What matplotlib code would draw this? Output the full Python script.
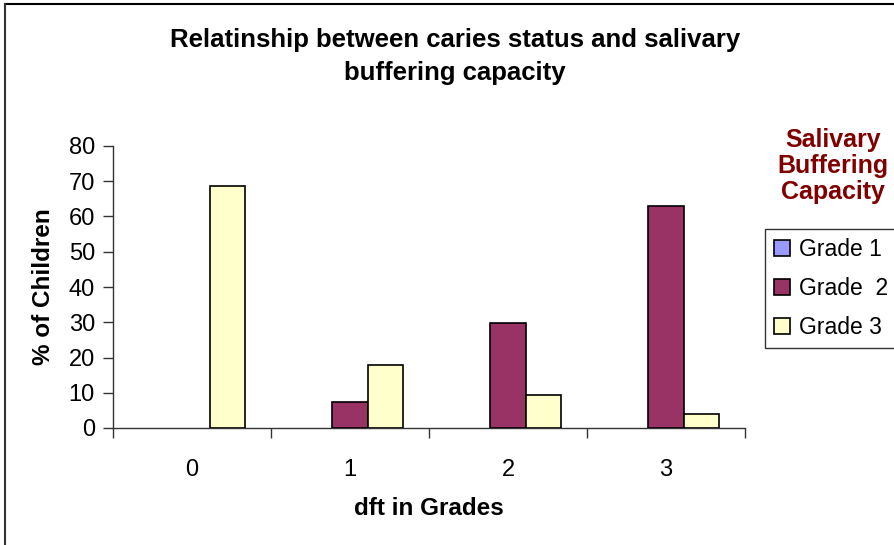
import numpy as np
import matplotlib
matplotlib.use("Agg")
from matplotlib import pyplot as plt
from matplotlib.lines import Line2D

plt.rcParams["font.family"] = ["Liberation Sans", "DejaVu Sans"]

# Data
categories = ["0", "1", "2", "3"]
series_names = ["Grade 1", "Grade  2", "Grade 3"]
grade1 = [0, 0, 0, 0]
grade2 = [0, 7.5, 29.8, 63.0]
grade3 = [68.7, 18.0, 9.4, 4.1]
series_colors = ["#9999FF", "#993366", "#FFFFCC"]
y_ticks = [0, 10, 20, 30, 40, 50, 60, 70, 80]

fig = plt.figure(figsize=(8.95, 5.45), dpi=100)
ax = fig.add_axes((113 / 895, 1 - 428 / 545, 632 / 895, 282 / 545))

x = np.arange(len(categories))
bar_w = 1 / 4.5
handles = []
for k, (vals, name, col) in enumerate(zip([grade1, grade2, grade3], series_names, series_colors)):
    vals = np.array(vals, dtype=float)
    mask = vals > 0
    ax.bar(x[mask] + (k - 1) * bar_w, vals[mask], width=bar_w, color=col,
           edgecolor="black", linewidth=1.2, zorder=3)
    handles.append(plt.Rectangle((0, 0), 1, 1, facecolor=col, edgecolor="black", linewidth=1.2))

ax.set_xlim(-0.5, len(categories) - 0.5)
ax.set_ylim(0, 80)
ax.set_yticks(y_ticks)
ax.set_xticks(np.arange(-0.5, len(categories)), [])
ax.set_xticks(x, categories, minor=True)
ax.tick_params(axis="x", which="major", direction="out", length=7, width=1, color="#333333")
ax.tick_params(axis="x", which="minor", length=0, pad=22, labelsize=17)
ax.tick_params(axis="y", direction="out", length=7, width=1, color="#333333", pad=6, labelsize=17)

for side in ["top", "right"]:
    ax.spines[side].set_visible(False)
for side in ["left", "bottom"]:
    ax.spines[side].set_color("#333333")
    ax.spines[side].set_linewidth(1)

ax.set_xlabel("dft in Grades", fontsize=17.5, fontweight="bold", labelpad=12)
ax.set_ylabel("% of Children", fontsize=17.5, fontweight="bold", labelpad=10)

fig.text(455 / 895, 1 - 40 / 545, "Relatinship between caries status and salivary",
         ha="center", va="center", fontsize=18.5, fontweight="bold")
fig.text(455 / 895, 1 - 73 / 545, "buffering capacity",
         ha="center", va="center", fontsize=18.5, fontweight="bold")

fig.text(833 / 895, 1 - 166 / 545, "Salivary\nBuffering\nCapacity", ha="center", va="center",
         fontsize=18, fontweight="bold", color="#800000", linespacing=1.1)

leg = fig.legend(handles, series_names, loc="upper left",
                 bbox_to_anchor=(765 / 895, 1 - 229 / 545), fontsize=16.5,
                 frameon=True, fancybox=False, edgecolor="black", handlelength=0.7,
                 handleheight=0.7, handletextpad=0.4, borderpad=0.4, labelspacing=0.7,
                 borderaxespad=0)
leg.get_frame().set_linewidth(1)

# outer chart border (top and left edges visible)
fig.add_artist(Line2D([5 / 895, 1], [1 - 4 / 545, 1 - 4 / 545], color="black", linewidth=1.5))
fig.add_artist(Line2D([5 / 895, 5 / 895], [0, 1 - 4 / 545], color="#333333", linewidth=1.5))

fig.savefig("out.png", dpi=100)
